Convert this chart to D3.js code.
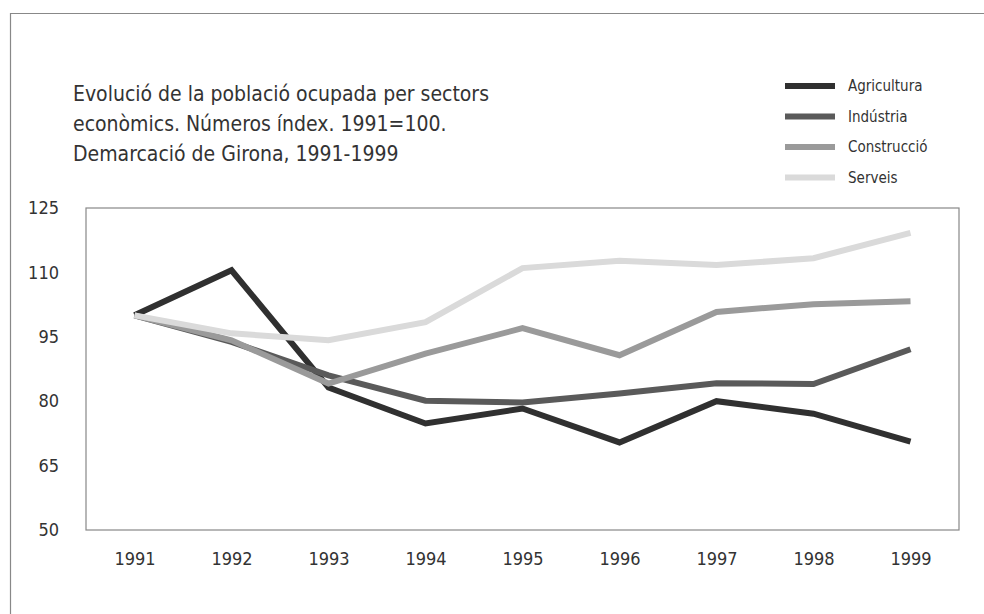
<!DOCTYPE html>
<html>
<head>
<meta charset="utf-8">
<script src="https://cdn.jsdelivr.net/npm/d3@7"></script>
<style>
  body { margin: 0; background: #fff; }
  .axisText { font-family: "Liberation Sans Narrow", "DejaVu Sans Condensed", sans-serif; font-size: 18px; fill: #333; }
  .titleText { font-family: "Liberation Sans Narrow", "DejaVu Sans Condensed", sans-serif; font-size: 21px; fill: #333; }
  .legendText { font-family: "Liberation Sans Narrow", "DejaVu Sans Condensed", sans-serif; font-size: 15px; fill: #333; }
</style>
</head>
<body>
<div id="chart"></div>
<script>
var svgWidth = 984;
var svgHeight = 614;

var margin = {
  top: 208,
  right: 25,
  bottom: 84,
  left: 86
};

var width = svgWidth - margin.left - margin.right;
var height = svgHeight - margin.top - margin.bottom;

// data
var years = [1991, 1992, 1993, 1994, 1995, 1996, 1997, 1998, 1999];
var sectors = ["Agricultura", "Indústria", "Construcció", "Serveis"];
var agricultura = [100, 110.5, 83.2, 74.8, 78.3, 70.4, 80.0, 77.1, 70.6];
var industria = [100, 93.8, 86.0, 80.1, 79.7, 81.8, 84.2, 84.0, 92.1];
var construccio = [100, 94.2, 84.1, 91.1, 97.0, 90.7, 100.8, 102.6, 103.3];
var serveis = [100, 95.8, 94.2, 98.4, 111.0, 112.7, 111.7, 113.3, 119.2];
var yTicks = [50, 65, 80, 95, 110, 125];
var titleLines = [
  "Evolució de la població ocupada per sectors",
  "econòmics. Números índex. 1991=100.",
  "Demarcació de Girona, 1991-1999"
];

var seriesValues = [agricultura, industria, construccio, serveis];
var colors = ["#303030", "#5a5a5a", "#9a9a9a", "#dadada"];

var svg = d3.select("#chart")
  .append("svg")
  .attr("width", svgWidth)
  .attr("height", svgHeight);

// outer frame (top + left only)
svg.append("path")
  .attr("d", "M10.5,614 L10.5,13.5 L984,13.5")
  .attr("fill", "none")
  .attr("stroke", "#888")
  .attr("stroke-width", 1.2);

// title
svg.selectAll(".titleText")
  .data(titleLines)
  .enter()
  .append("text")
  .attr("class", "titleText")
  .attr("x", 73)
  .attr("y", (d, i) => 101 + i * 30)
  .text(d => d);

var chartGroup = svg.append("g")
  .attr("transform", `translate(${margin.left}, ${margin.top})`);

// scales
var xScale = d3.scalePoint()
  .domain(years)
  .range([0, width])
  .padding(0.5);

var yScale = d3.scaleLinear()
  .domain([50, 125])
  .range([height, 0]);

// plot box
chartGroup.append("rect")
  .attr("x", 0)
  .attr("y", 0)
  .attr("width", width)
  .attr("height", height)
  .attr("fill", "none")
  .attr("stroke", "#888")
  .attr("stroke-width", 1.2);

// axes (labels only)
var bottomAxis = d3.axisBottom(xScale).tickSize(0).tickPadding(22);
var leftAxis = d3.axisLeft(yScale).tickValues(yTicks).tickSize(0).tickPadding(27);

var xAxisG = chartGroup.append("g")
  .attr("transform", `translate(0, ${height})`)
  .call(bottomAxis);
xAxisG.select(".domain").remove();
xAxisG.selectAll("text").attr("class", "axisText");
xAxisG.attr("font-size", null).attr("font-family", null);

var yAxisG = chartGroup.append("g")
  .call(leftAxis);
yAxisG.select(".domain").remove();
yAxisG.selectAll("text").attr("class", "axisText");
yAxisG.attr("font-size", null).attr("font-family", null);

// lines
var line = d3.line()
  .x((d, i) => xScale(years[i]))
  .y(d => yScale(d));

chartGroup.selectAll(".sectorLine")
  .data(seriesValues)
  .enter()
  .append("path")
  .attr("class", "sectorLine")
  .attr("d", d => line(d))
  .attr("fill", "none")
  .attr("stroke", (d, i) => colors[i])
  .attr("stroke-width", 6)
  .attr("stroke-linejoin", "miter");

// legend
var legend = svg.append("g")
  .attr("transform", "translate(785, 86)");

var legendItems = legend.selectAll("g")
  .data(sectors)
  .enter()
  .append("g")
  .attr("transform", (d, i) => `translate(0, ${i * 30.5})`);

legendItems.append("line")
  .attr("x1", 0)
  .attr("x2", 50)
  .attr("y1", 0)
  .attr("y2", 0)
  .attr("stroke", (d, i) => colors[i])
  .attr("stroke-width", 6);

legendItems.append("text")
  .attr("class", "legendText")
  .attr("x", 63)
  .attr("dy", "0.35em")
  .text(d => d);
</script>
</body>
</html>
